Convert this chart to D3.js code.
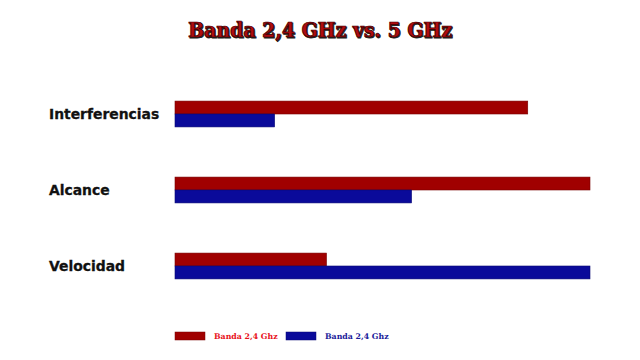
<!DOCTYPE html>
<html>
<head>
<meta charset="utf-8">
<script src="https://cdn.jsdelivr.net/npm/d3@7"></script>
<style>
  body { margin: 0; background: #fff; }
  svg { display: block; }
</style>
</head>
<body>
<div id="chart"></div>
<script>
var categories = ["Interferencias", "Alcance", "Velocidad"];
var seriesNames = ["Banda 2,4 Ghz", "Banda 2,4 Ghz"];
var band24 = [85, 100, 36.5];
var band5 = [24, 57, 100];
var colors = ["#a00000", "#0a0a9a"];
var legendTextColors = ["#e8101a", "#1a1a9a"];

var svgWidth = 640;
var svgHeight = 360;

var svg = d3.select("#chart")
  .append("svg")
  .attr("width", svgWidth)
  .attr("height", svgHeight);

// title with shadow
var title = "Banda 2,4 GHz vs. 5 GHz";
svg.append("text")
  .attr("x", 321)
  .attr("y", 38)
  .attr("text-anchor", "middle")
  .attr("font-family", "'DejaVu Serif Condensed', 'DejaVu Serif'")
  .attr("font-stretch", "condensed")
  .attr("font-weight", "bold")
  .attr("font-size", 21)
  .attr("fill", "#222")
  .attr("stroke", "#222")
  .attr("stroke-width", 0.8)
  .text(title);
svg.append("text")
  .attr("x", 320)
  .attr("y", 37)
  .attr("text-anchor", "middle")
  .attr("font-family", "'DejaVu Serif Condensed', 'DejaVu Serif'")
  .attr("font-stretch", "condensed")
  .attr("font-weight", "bold")
  .attr("font-size", 21)
  .attr("fill", "#b00c10")
  .attr("stroke", "#3a0000")
  .attr("stroke-width", 0.7)
  .text(title);

// scales
var x = d3.scaleLinear().domain([0, 100]).range([175, 590]);
var y = d3.scaleBand().domain(categories).range([76, 304]).paddingInner(0.66).paddingOuter(0.33);
var ySub = d3.scaleBand().domain([0, 1]).range([0, y.bandwidth()]);

var data = categories.map(function(c, i) {
  return { cat: c, vals: [band24[i], band5[i]] };
});

var groups = svg.selectAll("g.cat")
  .data(data)
  .enter()
  .append("g")
  .attr("class", "cat")
  .attr("transform", d => `translate(0, ${y(d.cat)})`);

groups.selectAll("rect")
  .data(d => d.vals)
  .enter()
  .append("rect")
  .attr("x", x(0))
  .attr("y", (d, i) => ySub(i))
  .attr("width", d => x(d) - x(0))
  .attr("height", ySub.bandwidth())
  .attr("fill", (d, i) => colors[i])
  .attr("stroke", (d, i) => d3.color(colors[i]).darker(0.8))
  .attr("stroke-width", 0.6);

// category labels
svg.selectAll("text.cat")
  .data(categories)
  .enter()
  .append("text")
  .attr("class", "cat")
  .attr("x", 49)
  .attr("y", d => y(d) + y.bandwidth() / 2)
  .attr("dy", "0.35em")
  .attr("font-family", "DejaVu Sans")
  .attr("font-weight", "bold")
  .attr("font-size", 13.9)
  .attr("fill", "#111")
  .attr("stroke", "#111")
  .attr("stroke-width", 0.3)
  .text(d => d);

// legend
var legendX = [175, 286];
var legend = svg.selectAll("g.legend")
  .data(seriesNames)
  .enter()
  .append("g")
  .attr("class", "legend")
  .attr("transform", (d, i) => `translate(${legendX[i]}, 332)`);

legend.append("rect")
  .attr("width", 30)
  .attr("height", 8)
  .attr("fill", (d, i) => colors[i])
  .attr("stroke", (d, i) => d3.color(colors[i]).darker(0.8))
  .attr("stroke-width", 0.5);

legend.append("text")
  .attr("x", 39)
  .attr("y", 4)
  .attr("dy", "0.35em")
  .attr("font-family", "DejaVu Serif")
  .attr("font-weight", "bold")
  .attr("font-size", 7.8)
  .attr("fill", (d, i) => legendTextColors[i])
  .text(d => d);
</script>
</body>
</html>
